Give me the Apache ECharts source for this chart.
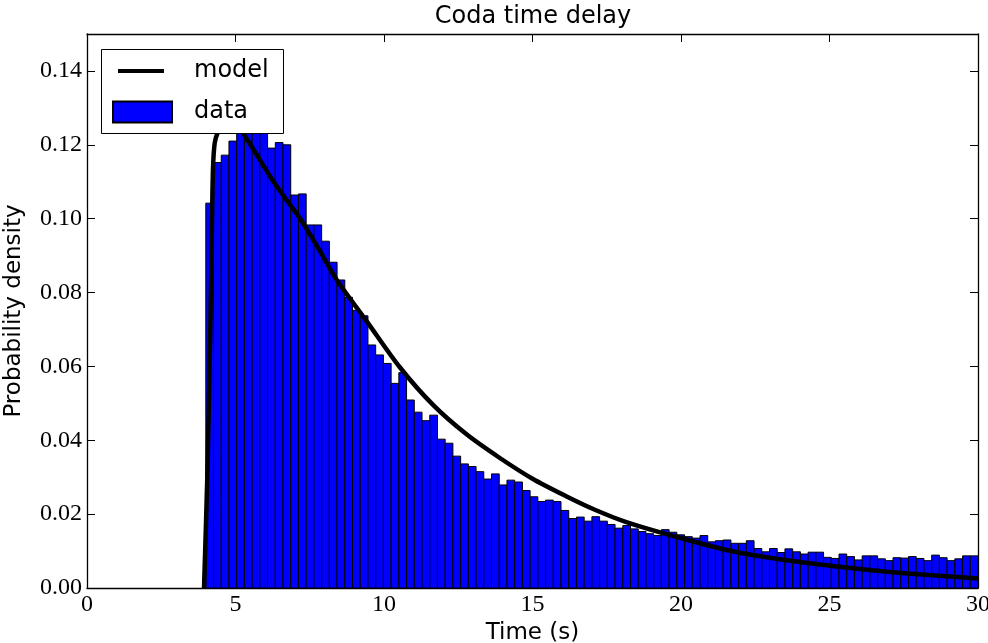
<!DOCTYPE html>
<html>
<head>
<meta charset="utf-8">
<script src="https://cdn.jsdelivr.net/npm/echarts@6/dist/echarts.min.js"></script>
<style>
html,body{margin:0;padding:0;background:#fff;}
#chart{width:988px;height:643px;}
</style>
</head>
<body>
<div id="chart"></div>
<script>
// Histogram: 100 bins of width 0.26 starting at t = 4.0 s
const BIN_START = 4.0;
const BIN_WIDTH = 0.26;
const densities = [
  0.1042, 0.1152, 0.1172, 0.1210, 0.1250, 0.1265, 0.1260, 0.1245, 0.1191, 0.1206,
  0.1200, 0.1064, 0.1067, 0.0983, 0.0983, 0.0939, 0.0882, 0.0834, 0.0787, 0.0752,
  0.0737, 0.0658, 0.0631, 0.0608, 0.0554, 0.0583, 0.0509, 0.0476, 0.0453, 0.0468,
  0.0403, 0.0392, 0.0357, 0.0336, 0.0329, 0.0315, 0.0295, 0.0309, 0.0279, 0.0292,
  0.0287, 0.0264, 0.0247, 0.0234, 0.0238, 0.0234, 0.0210, 0.0188, 0.0192, 0.0181,
  0.0193, 0.0181, 0.0172, 0.0162, 0.0169, 0.0160, 0.0153, 0.0147, 0.0142, 0.0158,
  0.0151, 0.0144, 0.0139, 0.0135, 0.0142, 0.0125, 0.0128, 0.0130, 0.0121, 0.0121,
  0.0128, 0.0107, 0.0098, 0.0107, 0.0096, 0.0106, 0.0098, 0.0092, 0.0097, 0.0097,
  0.0083, 0.0080, 0.0092, 0.0085, 0.0076, 0.0087, 0.0087, 0.0079, 0.0074, 0.0082,
  0.0081, 0.0085, 0.0080, 0.0074, 0.0089, 0.0082, 0.0074, 0.0079, 0.0087, 0.0087
];

// Model curve
const modelT = [3.94, 4.05, 4.14, 4.2, 4.24, 4.3, 4.41, 4.6, 4.85, 5.05, 5.25, 5.7, 6.16, 6.65, 7.17,
  7.8, 8.41, 9.42, 10.54, 11.66, 12.78, 13.9, 15.0, 16.15, 17.1, 18.11, 19.69, 21.65, 23.5, 25.86, 28.0, 30.0];
const modelP = [0, 0.03, 0.065, 0.094, 0.113, 0.1205, 0.1235, 0.1262, 0.1268, 0.1255, 0.1232, 0.1175, 0.1115, 0.1058, 0.1001,
  0.0918, 0.0834, 0.0722, 0.0597, 0.0495, 0.0416, 0.0352, 0.0296, 0.0248, 0.0212, 0.0180, 0.0142, 0.0101, 0.0076, 0.0053, 0.0037, 0.0026];

const xTicks = [0, 5, 10, 15, 20, 25, 30];
const yTicks = [0, 0.02, 0.04, 0.06, 0.08, 0.10, 0.12, 0.14];

const histRows = densities.map((d, i) => [BIN_START + i * BIN_WIDTH, BIN_START + (i + 1) * BIN_WIDTH, d]);
const modelRows = modelT.map((t, i) => [t, modelP[i]]);

const SERIF = "'Liberation Serif', 'DejaVu Serif', serif";
const SANS = "'DejaVu Sans', 'Liberation Sans', sans-serif";

const chart = echarts.init(document.getElementById('chart'), null, {renderer: 'canvas'});

const axisLine = {show: true, onZero: false, lineStyle: {color: '#000', width: 1.3}};
const tick = {show: true, inside: true, length: 8, lineStyle: {color: '#000', width: 1}};

chart.setOption({
  animation: false,
  backgroundColor: '#fff',
  title: {
    text: 'Coda time delay',
    left: 533, top: 5, textAlign: 'center', padding: 0,
    textStyle: {fontFamily: SANS, fontSize: 24, fontWeight: 'normal', color: '#000'}
  },
  grid: {left: 87, right: 10, top: 34, bottom: 55, containLabel: false, outerBoundsMode: 'none'},
  xAxis: [{
    type: 'value', min: 0, max: 30, interval: 5, position: 'bottom',
    axisLine: axisLine, axisTick: tick, splitLine: {show: false},
    axisLabel: {color: '#000', fontFamily: SERIF, fontSize: 24, margin: 5,
      formatter: v => xTicks.includes(v) ? String(v) : ''},
    name: 'Time (s)', nameLocation: 'middle', nameGap: 30,
    nameTextStyle: {fontFamily: SANS, fontSize: 23, color: '#000'}
  }, {
    type: 'value', min: 0, max: 30, interval: 5, position: 'top',
    axisLine: axisLine, axisTick: tick, splitLine: {show: false}, axisLabel: {show: false}
  }],
  yAxis: [{
    type: 'value', min: 0, max: 0.15, interval: 0.02, position: 'left',
    axisLine: axisLine, axisTick: tick, splitLine: {show: false},
    axisLabel: {color: '#000', fontFamily: SERIF, fontSize: 24, margin: 5, showMaxLabel: false,
      formatter: v => yTicks.some(t => Math.abs(t - v) < 1e-9) ? v.toFixed(2) : ''},
    name: 'Probability density', nameLocation: 'middle', nameGap: 61,
    nameTextStyle: {fontFamily: SANS, fontSize: 23, color: '#000'}
  }, {
    type: 'value', min: 0, max: 0.15, interval: 0.02, position: 'right',
    axisLine: axisLine, axisTick: tick, splitLine: {show: false}, axisLabel: {show: false}
  }],
  graphic: [{
    type: 'rect', z: 50, left: 101, top: 49,
    shape: {width: 182, height: 84},
    style: {fill: '#fff', stroke: '#000', lineWidth: 1}
  }],
  legend: [{
    data: [{name: 'model', icon: 'rect'}],
    left: 118, top: 56, padding: 0, z: 60,
    itemWidth: 46, itemHeight: 4,
    itemStyle: {color: '#000', borderWidth: 0},
    textStyle: {fontFamily: SANS, fontSize: 24, color: '#000', lineHeight: 30, padding: [0, 0, 0, 25]}
  }, {
    data: [{name: 'data', icon: 'rect'}],
    left: 112, top: 97, padding: 0, z: 60,
    itemWidth: 59, itemHeight: 21,
    textStyle: {fontFamily: SANS, fontSize: 24, color: '#000', lineHeight: 30, padding: [0, 0, 0, 17]}
  }],
  series: [{
    name: 'data', type: 'custom', xAxisIndex: 0, yAxisIndex: 0,
    itemStyle: {color: '#0000ff', borderColor: '#000', borderWidth: 1},
    encode: {x: [0, 1], y: 2},
    data: histRows,
    renderItem: function (params, api) {
      const p0 = api.coord([api.value(0), api.value(2)]);
      const p1 = api.coord([api.value(1), 0]);
      return {
        type: 'rect',
        shape: {x: p0[0], y: p0[1], width: p1[0] - p0[0], height: p1[1] - p0[1]},
        style: {fill: '#0000ff', stroke: '#000', lineWidth: 1}
      };
    },
    z: 2
  }, {
    name: 'model', type: 'line', xAxisIndex: 0, yAxisIndex: 0,
    data: modelRows, showSymbol: false, symbol: 'none', smooth: 0.3,
    lineStyle: {color: '#000', width: 4.5}, itemStyle: {color: '#000'},
    clip: true, z: 3
  }]
});
</script>
</body>
</html>
